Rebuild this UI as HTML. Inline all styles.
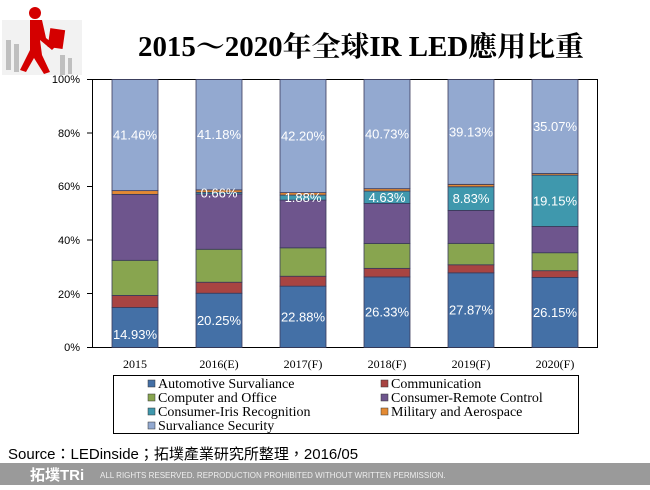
<!DOCTYPE html>
<html><head><meta charset="utf-8"><style>
body{margin:0;width:650px;height:485px;overflow:hidden;background:#fff;font-family:"Liberation Serif","Noto Serif CJK SC",serif;}
</style></head><body>
<svg width="650" height="485" xmlns="http://www.w3.org/2000/svg">
<g>
<rect x="2" y="20" width="80" height="55" fill="#f2f2f2"/>
<circle cx="35" cy="13" r="6" fill="#d40000"/>
<path d="M30 20 L42 20 L46 38 L56 46 L52 50 L40 40 L42 55 L50 72 L44 74 L34 58 L26 72 L20 70 L30 50 Z" fill="#d40000"/>
<rect x="49" y="29" width="15" height="19" fill="#d40000" transform="rotate(8 56 38)"/>
<g fill="#aaa" opacity="0.7"><rect x="6" y="40" width="5" height="30"/><rect x="14" y="44" width="5" height="28"/><rect x="60" y="55" width="5" height="20"/><rect x="68" y="58" width="4" height="16"/></g>
</g>
<text x="361" y="56" text-anchor="middle" font-size="28" font-weight="bold" textLength="446" lengthAdjust="spacingAndGlyphs" font-family="Liberation Serif,'Noto Serif CJK SC',serif">2015～2020年全球IR LED應用比重</text>
<g font-family="Liberation Sans,sans-serif" font-size="11" fill="#000" text-anchor="end">
<text x="80" y="83">100%</text><text x="80" y="137">80%</text><text x="80" y="190">60%</text><text x="80" y="244">40%</text><text x="80" y="298">20%</text><text x="80" y="351">0%</text>
</g>
<g stroke="#000" stroke-width="1">
<line x1="87" y1="79.5" x2="93" y2="79.5"/><line x1="87" y1="133" x2="93" y2="133"/><line x1="87" y1="186.5" x2="93" y2="186.5"/><line x1="87" y1="240" x2="93" y2="240"/><line x1="87" y1="293.5" x2="93" y2="293.5"/><line x1="87" y1="347.5" x2="93" y2="347.5"/>
</g>
<rect x="92.5" y="79.5" width="505" height="268" fill="none" stroke="#000"/>
<g id="bars" stroke="#3a3a5a" stroke-width="0.8"></g>
<g id="labels" font-size="13" fill="#fff" text-anchor="middle" font-family="Liberation Sans,sans-serif"></g>
<g font-size="12" text-anchor="middle">
<text x="135" y="368">2015</text><text x="219" y="368">2016(E)</text><text x="303" y="368">2017(F)</text><text x="387" y="368">2018(F)</text><text x="471" y="368">2019(F)</text><text x="555" y="368">2020(F)</text>
</g>
<rect x="113.5" y="375.5" width="465" height="58" fill="#fff" stroke="#000"/>
<g font-size="14">
<rect x="148" y="380" width="7" height="7" fill="#4470a6" stroke="#333" stroke-width=".5"/><text x="158" y="388">Automotive Survaliance</text>
<rect x="381" y="380" width="7" height="7" fill="#a84442" stroke="#333" stroke-width=".5"/><text x="391" y="388">Communication</text>
<rect x="148" y="394" width="7" height="7" fill="#88a54f" stroke="#333" stroke-width=".5"/><text x="158" y="402">Computer and Office</text>
<rect x="381" y="394" width="7" height="7" fill="#6e558d" stroke="#333" stroke-width=".5"/><text x="391" y="402">Consumer-Remote Control</text>
<rect x="148" y="408" width="7" height="7" fill="#3f98ad" stroke="#333" stroke-width=".5"/><text x="158" y="416">Consumer-Iris Recognition</text>
<rect x="381" y="408" width="7" height="7" fill="#e38a33" stroke="#333" stroke-width=".5"/><text x="391" y="416">Military and Aerospace</text>
<rect x="148" y="422" width="7" height="7" fill="#93a9d0" stroke="#333" stroke-width=".5"/><text x="158" y="430">Survaliance Security</text>
</g>
<text x="8" y="459" font-size="15" font-family="Liberation Sans,'Noto Sans CJK TC',sans-serif">Source：LEDinside；拓墣產業研究所整理，2016/05</text>
<rect x="0" y="463" width="650" height="22" fill="#9a9a9a"/>
<text x="30" y="480" font-size="15" font-weight="bold" fill="#fff" font-family="Liberation Sans,'Noto Sans CJK TC',sans-serif">拓墣TRi</text>
<text x="100" y="478" font-size="8" fill="#eee" font-family="Liberation Sans,sans-serif">ALL RIGHTS RESERVED. REPRODUCTION PROHIBITED WITHOUT WRITTEN PERMISSION.</text>
</svg>
<script>
var cols=["#4470a6","#a84442","#88a54f","#6e558d","#3f98ad","#e38a33","#93a9d0"];
var data=[[14.93,4.5,13.1,24.6,0,1.4,41.46],[20.25,4.1,12.3,20.6,0.66,0.9,41.18],[22.88,3.7,10.6,17.8,1.88,0.9,42.2],[26.33,3.2,9.3,14.9,4.63,0.9,40.73],[27.87,3.0,8.0,12.3,8.83,0.9,39.13],[26.15,2.5,6.7,9.8,19.15,0.6,35.07]];
var lab=[[0,6],[0,4,6],[0,4,6],[0,4,6],[0,4,6],[0,4,6]];
var ns="http://www.w3.org/2000/svg",B=document.getElementById("bars"),L=document.getElementById("labels");
data.forEach(function(d,i){var cx=135+84*i,y=347.5;var tot=d.reduce(function(a,b){return a+b},0);
d.forEach(function(v,j){v=v*100/tot;var h=v*2.68;if(h<=0)return;var r=document.createElementNS(ns,"rect");r.setAttribute("x",cx-23);r.setAttribute("y",y-h);r.setAttribute("width",46);r.setAttribute("height",h);r.setAttribute("fill",cols[j]);B.appendChild(r);
if(lab[i].indexOf(j)>=0&&data[i][j]>0){var t=document.createElementNS(ns,"text");t.setAttribute("x",cx);var ty=y-h/2+4.5;if(j==0)ty=y-h/2+4.5+(i==0?7:0);t.setAttribute("y",ty);t.textContent=data[i][j].toFixed(2)+"%";L.appendChild(t);}
y-=h;});});
</script>
</body></html>
